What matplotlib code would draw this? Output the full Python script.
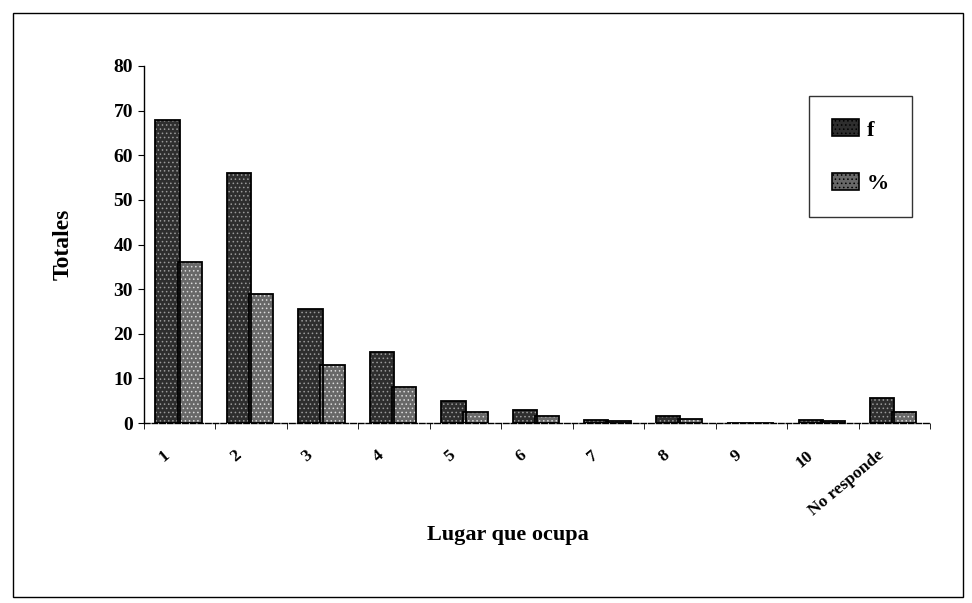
import matplotlib

matplotlib.use("Agg")
import matplotlib.pyplot as plt
import numpy as np
from matplotlib.patches import Rectangle
from matplotlib.transforms import ScaledTranslation

# data
categories = ["1", "2", "3", "4", "5", "6", "7", "8", "9", "10", "No responde"]
f_vals = [68, 56, 25.5, 16, 5, 3, 0.7, 1.5, 0, 0.7, 5.5]
pct_vals = [36, 29, 13, 8, 2.5, 1.5, 0.4, 0.8, 0, 0.4, 2.5]
y_ticks = [0, 10, 20, 30, 40, 50, 60, 70, 80]

SERIF = ["Liberation Serif", "DejaVu Serif"]

fig = plt.figure(figsize=(9.72, 6.03), dpi=100)
# axes box in pixels: x 144..930, y 66..423
ax = fig.add_axes([144 / 972, 1 - 423 / 603, 786 / 972, 357 / 603])

x = np.arange(len(categories))
w = 0.34

plt.rcParams["hatch.linewidth"] = 0.6


def speckled_bars(xs, vals, face, hatch_col, label):
    ax.bar(xs, vals, width=w, color=face, edgecolor=hatch_col, linewidth=0,
           hatch="....", zorder=2)
    ax.bar(xs, vals, width=w, fill=False, edgecolor="black", linewidth=1.3,
           zorder=3)
    return Rectangle((0, 0), 1, 1, facecolor=face, edgecolor="black",
                     hatch="....", linewidth=1.2, label=label)


h1 = speckled_bars(x - w / 2, f_vals, "#2e2e2e", "#9a9a9a", "f")
h2 = speckled_bars(x + w / 2 - 0.03, pct_vals, "#686868", "#dadada", "%")

ax.set_xlim(-0.5, len(categories) - 0.5)
ax.set_ylim(0, 80)
ax.set_yticks(y_ticks)
ax.set_yticklabels([str(t) for t in y_ticks], family=SERIF, fontsize=14,
                   fontweight="bold")

ax.set_xticks(x)
ax.set_xticklabels(categories, rotation=40, ha="right", va="center",
                   rotation_mode="anchor", family=SERIF, fontsize=12.5,
                   fontweight="bold")
ax.tick_params(axis="x", length=0, pad=22)
shift = ScaledTranslation(-12 / 100, 0, fig.dpi_scale_trans)
for lbl in ax.get_xticklabels():
    lbl.set_transform(lbl.get_transform() + shift)
ax.set_xticks(np.arange(len(categories) + 1) - 0.5, minor=True)
ax.tick_params(axis="x", which="minor", length=4, direction="out")
ax.tick_params(axis="y", length=4, direction="out", width=0.8, pad=4)

for side in ("top", "right"):
    ax.spines[side].set_visible(False)
ax.spines["left"].set_linewidth(1.0)
ax.spines["bottom"].set_linewidth(1.0)
ax.spines["bottom"].set_linestyle((0, (4, 1.5)))

ax.set_ylabel("Totales", family=SERIF, fontsize=17, fontweight="bold")
ax.yaxis.set_label_coords(-0.089, 0.5)
ax.set_xlabel("Lugar que ocupa", family=SERIF, fontsize=16, fontweight="bold")
ax.xaxis.set_label_coords(0.463, -0.285)

leg = ax.legend(handles=[h1, h2], loc="upper left",
                bbox_to_anchor=((809 - 144) / 786, (423 - 96) / 357),
                fancybox=False, frameon=True, edgecolor="black",
                labelspacing=1.45, borderpad=1.05, borderaxespad=0,
                handlelength=1.2, handleheight=0.8, handletextpad=0.35,
                prop={"family": SERIF, "size": 16, "weight": "bold"})
leg.get_frame().set_linewidth(1.0)

# outer frame around the whole chart
fig.patches.append(Rectangle((13 / 972, 6 / 603), 950 / 972, 584 / 603,
                             transform=fig.transFigure, fill=False,
                             edgecolor="black", linewidth=1.0))

fig.savefig("out.png", dpi=100)
